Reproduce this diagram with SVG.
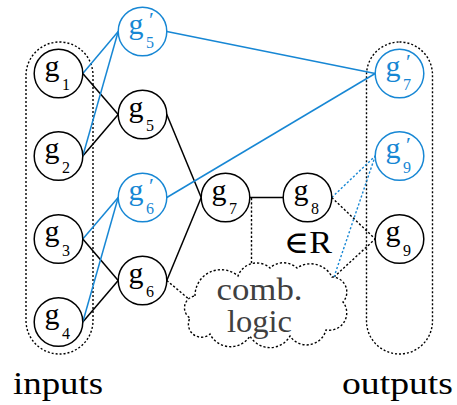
<svg xmlns="http://www.w3.org/2000/svg" width="457" height="405" viewBox="0 0 457 405">
<style>
.n{fill:#fff;stroke:#000;stroke-width:1.5}
.nb{fill:#fff;stroke:#1787d4;stroke-width:1.5}
.g{font-size:30px;fill:#000}
.s{font-size:16px;fill:#000}
.p{font-size:22px;fill:#000}
.blue{fill:#1787d4}
.c{stroke:#000;stroke-width:1.5;fill:none}
.cb{stroke:#1787d4;stroke-width:1.5;fill:none}
.d{stroke:#000;stroke-width:1.4;fill:none;stroke-dasharray:2.2 2}
.db{stroke:#1787d4;stroke-width:1.4;fill:none;stroke-dasharray:2.2 2}
.box{fill:none;stroke:#000;stroke-width:1.4;stroke-dasharray:2 2}
.lbl{font-size:31px;fill:#000}
.gray{fill:#404040}
text{font-family:'Liberation Serif','DejaVu Serif',serif}
</style>
<rect width="457" height="405" fill="#fff"/>
<g id="groups">
<rect class="box" x="26" y="42" width="67" height="312" rx="33.5" ry="33.5"/>
<rect class="box" x="366.5" y="42" width="66" height="312" rx="33" ry="33"/>
</g>
<g id="connectors">
<line class="c" x1="82.8" y1="73.5" x2="118.2" y2="114.5"/>
<line class="c" x1="82.8" y1="156" x2="118.2" y2="114.5"/>
<line class="cb" x1="82.8" y1="73.5" x2="118.2" y2="31.5"/>
<line class="cb" x1="82.8" y1="156" x2="118.2" y2="31.5"/>
<line class="c" x1="82.8" y1="239" x2="118.2" y2="280.5"/>
<line class="c" x1="82.8" y1="322" x2="118.2" y2="280.5"/>
<line class="cb" x1="82.8" y1="239" x2="118.2" y2="197.5"/>
<line class="cb" x1="82.8" y1="322" x2="118.2" y2="197.5"/>
<line class="c" x1="166.8" y1="114.5" x2="201.2" y2="197.5"/>
<line class="c" x1="166.8" y1="280.5" x2="201.2" y2="197.5"/>
<line class="cb" x1="166.8" y1="31.5" x2="375.2" y2="73.5"/>
<line class="cb" x1="166.8" y1="197.5" x2="375.2" y2="73.5"/>
<line class="c" x1="249.8" y1="197.5" x2="283.2" y2="197.5"/>
<line class="d" x1="251.5" y1="198" x2="251.5" y2="266"/>
<line class="d" x1="166.8" y1="280.5" x2="190" y2="300"/>
<line class="d" x1="331.8" y1="197.5" x2="375.2" y2="239"/>
<line class="d" x1="334" y1="277" x2="375.2" y2="239"/>
<line class="db" x1="331.8" y1="197.5" x2="375.2" y2="156"/>
<line class="db" x1="334" y1="277" x2="375.2" y2="156"/>
</g>
<g id="comb-logic">
<path class="d" style="fill:#fff" d="M195,296 A26,26 0 0 1 238,276 A20,20 0 0 1 270,268 A20,20 0 0 1 297,268 A24,24 0 0 1 332,277 A15,15 0 0 1 343,302 A17.5,17.5 0 0 1 326,330 A20,20 0 0 1 290,336 A23,23 0 0 1 250,336 A23,23 0 0 1 210,334 A13,13 0 0 1 190,318 A12,12 0 0 1 195,296 Z"/>
<text class="lbl gray" x="259.5" y="299.5" text-anchor="middle" textLength="86" lengthAdjust="spacingAndGlyphs">comb.</text>
<text class="lbl gray" x="259.5" y="332" text-anchor="middle" textLength="65" lengthAdjust="spacingAndGlyphs">logic</text>
</g>
<g id="g1"><circle class="n" cx="58.5" cy="73.5" r="24.3"/><text class="g" x="44.5" y="75.5">g</text><text class="s" x="62" y="90">1</text></g>
<g id="g2"><circle class="n" cx="58.5" cy="156" r="24.3"/><text class="g" x="44.5" y="158">g</text><text class="s" x="62" y="172.5">2</text></g>
<g id="g3"><circle class="n" cx="58.5" cy="239" r="24.3"/><text class="g" x="44.5" y="241">g</text><text class="s" x="62" y="255.5">3</text></g>
<g id="g4"><circle class="n" cx="58.5" cy="322" r="24.3"/><text class="g" x="44.5" y="324">g</text><text class="s" x="62" y="338.5">4</text></g>
<g id="g5p"><circle class="nb" cx="142.5" cy="31.5" r="24.3"/><text class="g blue" x="128.5" y="33.5">g</text><text class="s blue" x="146" y="48">5</text><text class="p blue" x="149" y="27">′</text></g>
<g id="g5"><circle class="n" cx="142.5" cy="114.5" r="24.3"/><text class="g" x="128.5" y="116.5">g</text><text class="s" x="146" y="131">5</text></g>
<g id="g6p"><circle class="nb" cx="142.5" cy="197.5" r="24.3"/><text class="g blue" x="128.5" y="199.5">g</text><text class="s blue" x="146" y="214">6</text><text class="p blue" x="149" y="193">′</text></g>
<g id="g6"><circle class="n" cx="142.5" cy="280.5" r="24.3"/><text class="g" x="128.5" y="282.5">g</text><text class="s" x="146" y="297">6</text></g>
<g id="g7"><circle class="n" cx="225.5" cy="197.5" r="24.3"/><text class="g" x="211.5" y="199.5">g</text><text class="s" x="229" y="214">7</text></g>
<g id="g8"><circle class="n" cx="307.5" cy="197.5" r="24.3"/><text class="g" x="293.5" y="199.5">g</text><text class="s" x="311" y="214">8</text></g>
<g id="g7p"><circle class="nb" cx="399.5" cy="73.5" r="24.3"/><text class="g blue" x="385.5" y="75.5">g</text><text class="s blue" x="403" y="90">7</text><text class="p blue" x="406" y="69">′</text></g>
<g id="g9p"><circle class="nb" cx="399.5" cy="156" r="24.3"/><text class="g blue" x="385.5" y="158">g</text><text class="s blue" x="403" y="172.5">9</text><text class="p blue" x="406" y="151.5">′</text></g>
<g id="g9"><circle class="n" cx="399.5" cy="239" r="24.3"/><text class="g" x="385.5" y="241">g</text><text class="s" x="403" y="255.5">9</text></g>
<g id="labels">
<text class="lbl" x="284" y="253" textLength="48" lengthAdjust="spacingAndGlyphs">∈R</text>
<text class="lbl" x="13" y="394" textLength="90" lengthAdjust="spacingAndGlyphs">inputs</text>
<text class="lbl" x="342" y="394" textLength="111" lengthAdjust="spacingAndGlyphs">outputs</text>
</g>
</svg>
